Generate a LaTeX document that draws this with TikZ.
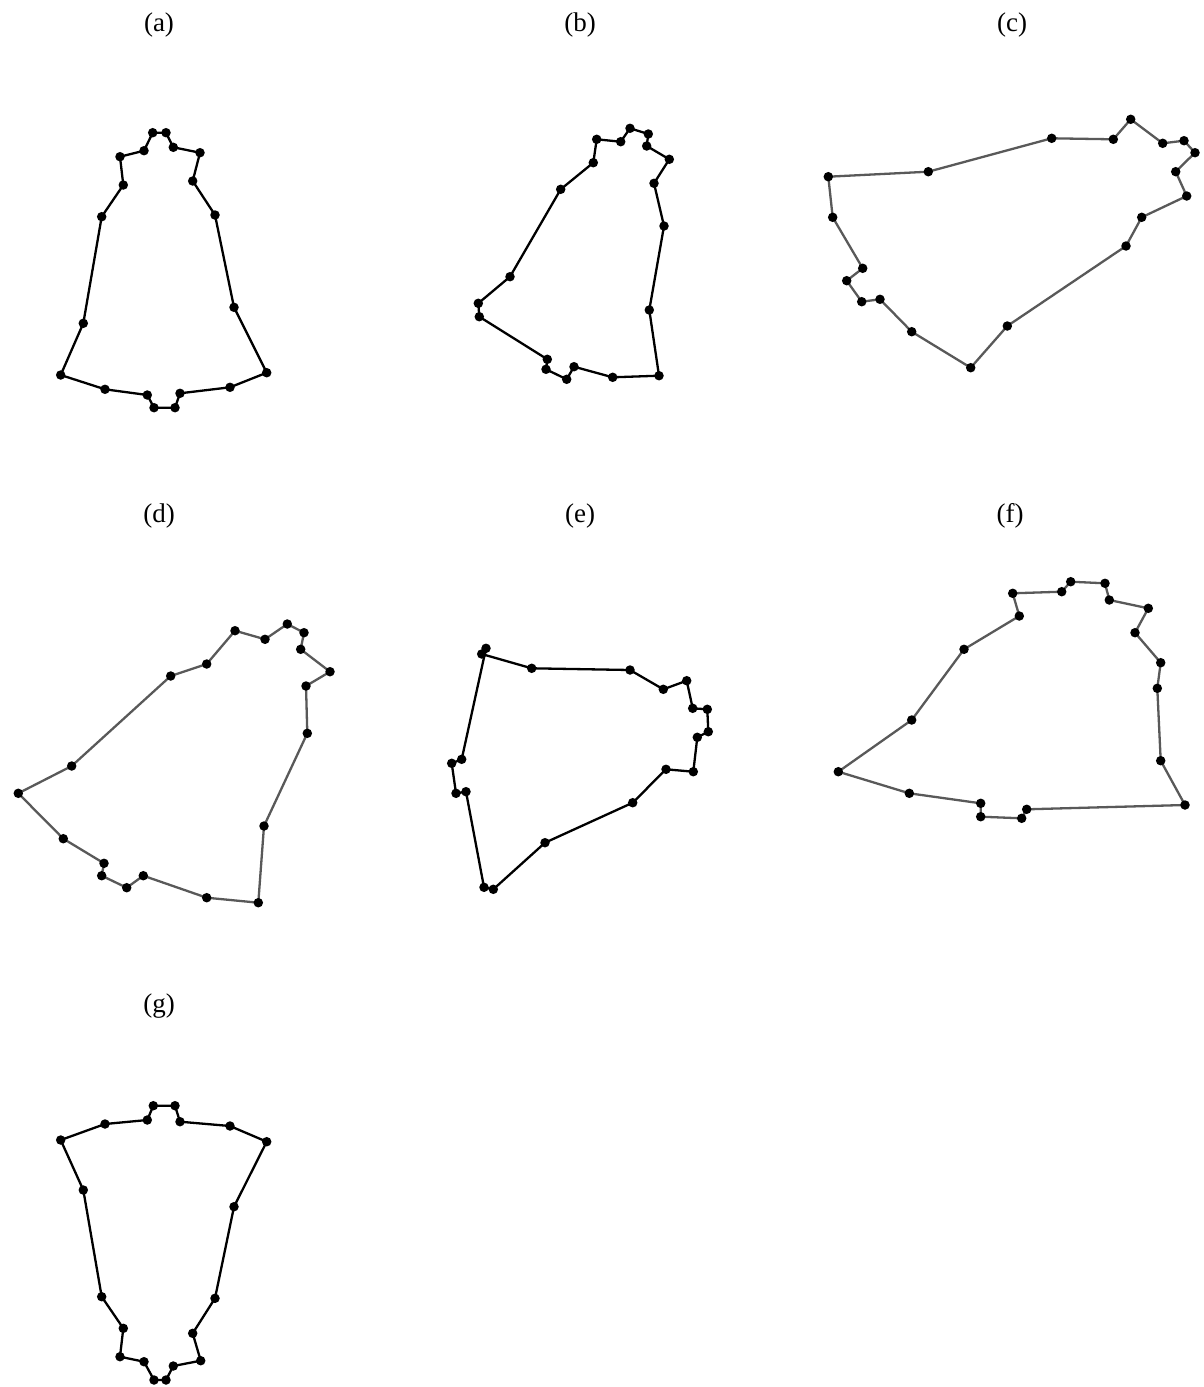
\documentclass[tikz,border=0pt]{standalone}
\usepackage{fontspec}
\setmainfont{Liberation Serif}
\begin{document}
\begin{tikzpicture}[x=1pt,y=-1pt,
  dot/.style={circle,fill=black,inner sep=0pt,minimum size=9.5pt},
  edge/.style={line width=2.3pt,black,line join=round},
  gedge/.style={line width=2.3pt,black!65,line join=round},
  lab/.style={font=\fontsize{27}{30}\selectfont}]
\useasboundingbox (0,0) rectangle (1203,1387);
% labels
\node[lab] (la) at (159,25) {(a)};
\node[lab] (lb) at (580,25) {(b)};
\node[lab] (lc) at (1012,25) {(c)};
\node[lab] (ld) at (159,516) {(d)};
\node[lab] (le) at (580,516) {(e)};
\node[lab] (lf) at (1010,516) {(f)};
\node[lab] (lg) at (159,1006) {(g)};
% shape a
\foreach \x/\y [count=\i] in {152.7/132.7,166/132.7,173.3/147.3,200/152.7,192.7/181,215/215,234/307.3,266.7/372.7,230/387.3,180/393.3,175/407.7,154/407.7,147.3/395,105/389.3,60.7/375,83.3/323.3,101.7/216.7,123.3/185,120/156.7,144/150.7}
  \coordinate (a\i) at (\x,\y);
\draw[edge] (a1)\foreach \i in {2,...,20}{--(a\i)}--cycle;
\foreach \i in {1,...,20} \node[dot] (da\i) at (a\i) {};
% shape b
\foreach \x/\y [count=\i] in {630/128.3,648.3/134,646.7/146,669.3/159.3,654/183.3,664/226,649.3/310,659/375.7,612.7/377.3,574/366.7,566.7/379.3,546/369.3,547.3/359.3,479.3/316.7,478.3/303.3,510/276.7,560.7/189.3,593.3/162.7,596.7/139.3,620.7/141.7}
  \coordinate (b\i) at (\x,\y);
\draw[edge] (b1)\foreach \i in {2,...,20}{--(b\i)}--cycle;
\foreach \i in {1,...,20} \node[dot] (db\i) at (b\i) {};
% shape c
\foreach \x/\y [count=\i] in {1130.7/119.3,1162.7/143.3,1184/140.7,1195/152.7,1175.7/171.7,1186.7/196,1141.7/217.3,1126/246,1007.3/326,970.7/367.7,911.7/331.7,880/299.3,861.7/301.7,846.7/280.7,862.7/268.3,832.7/217.3,828.3/176.7,928.3/171.7,1051.7/138.3,1113.3/139.3}
  \coordinate (c\i) at (\x,\y);
\draw[gedge] (c1)\foreach \i in {2,...,20}{--(c\i)}--cycle;
\foreach \i in {1,...,20} \node[dot] (dc\i) at (c\i) {};
% shape d
\foreach \x/\y [count=\i] in {235/630.7,265/639.3,287.3/624,304/632.7,300.7/649.3,330/671.7,306/686,307.3/733.3,264/826,258.3/902.7,206.7/897.7,143.3/875.7,126.7/887.7,101.7/875.7,104/863.3,63.3/838.7,18.3/793.3,71.7/766,170.7/676,206.7/664}
  \coordinate (d\i) at (\x,\y);
\draw[gedge] (d1)\foreach \i in {2,...,20}{--(d\i)}--cycle;
\foreach \i in {1,...,20} \node[dot] (dd\i) at (d\i) {};
% shape e
\foreach \x/\y [count=\i] in {486/648.3,481.7/654,531.7/668.3,630/670,663.3/689.3,686.7/680.7,692.7/708.3,707.3/709.3,708.3/731.7,697.3/737.3,693.3/771.7,666/769.3,632.7/802.7,545/842.7,493.3/889.3,484/887.3,466/791.7,456/793.3,451.7/763.3,461.7/759.3}
  \coordinate (e\i) at (\x,\y);
\draw[edge] (e1)\foreach \i in {2,...,20}{--(e\i)}--cycle;
\foreach \i in {1,...,20} \node[dot] (de\i) at (e\i) {};
% shape f
\foreach \x/\y [count=\i] in {1070.7/581.7,1105/583.3,1109.3/600,1148.3/608.3,1135/632.7,1160.7/662.7,1157.3/688.3,1160.7/760.7,1185/805,1026.7/809.3,1021.7/818.3,980.7/816.7,980.7/803.3,909.3/793.3,838.3/771.7,911.7/720,964/649.3,1019.3/616,1012.7/593.3,1061.7/591.7}
  \coordinate (f\i) at (\x,\y);
\draw[gedge] (f1)\foreach \i in {2,...,20}{--(f\i)}--cycle;
\foreach \i in {1,...,20} \node[dot] (df\i) at (f\i) {};
% shape g
\foreach \x/\y [count=\i] in {153.3/1105.7,175/1105.7,180/1121.7,230/1126,266.7/1141.7,234/1206.7,215/1298.3,192.7/1333.3,200.7/1360.7,173.3/1366,166/1380,154/1380,144/1361.7,120/1356.7,123.3/1328.3,101.7/1296.7,83.3/1190,60.7/1140,105/1124,147.3/1120}
  \coordinate (g\i) at (\x,\y);
\draw[edge] (g1)\foreach \i in {2,...,20}{--(g\i)}--cycle;
\foreach \i in {1,...,20} \node[dot] (dg\i) at (g\i) {};
\end{tikzpicture}
\end{document}
